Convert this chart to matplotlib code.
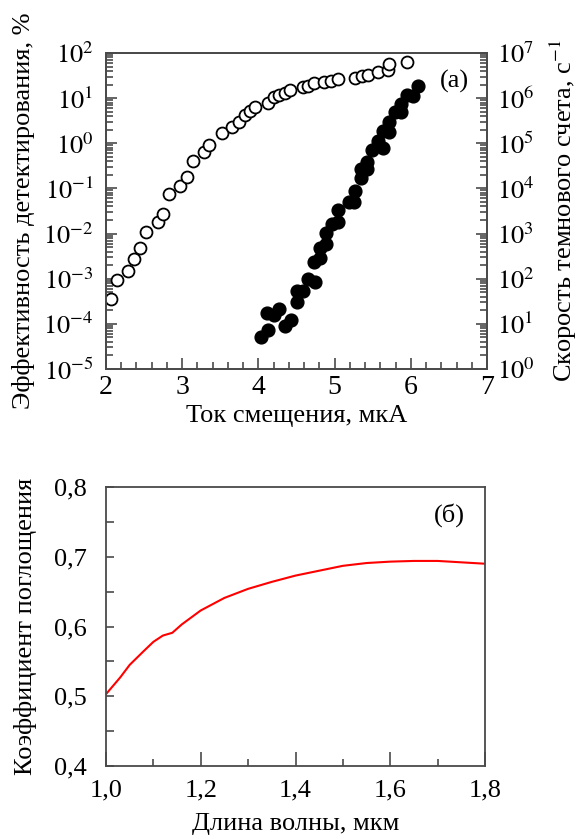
import numpy as np
import matplotlib
matplotlib.use('Agg')
import matplotlib.pyplot as plt
from matplotlib.ticker import LogLocator, FixedLocator, MultipleLocator, NullFormatter, FuncFormatter, FixedFormatter

plt.rcParams['font.family'] = ['Liberation Serif', 'DejaVu Serif']
plt.rcParams['mathtext.fontset'] = 'stix'

# ---------------- data: panel (a) ----------------
# detection efficiency, % (open circles, left axis)
bias_eff = [2.06, 2.14, 2.29, 2.37, 2.45, 2.52, 2.68, 2.75, 2.83, 2.97, 3.06, 3.14,
            3.29, 3.35, 3.52, 3.66, 3.75, 3.82, 3.89, 3.96, 4.12, 4.20, 4.27, 4.35,
            4.42, 4.58, 4.65, 4.73, 4.86, 4.95, 5.04, 5.27, 5.36, 5.44, 5.57, 5.70,
            5.71, 5.95]
efficiency = [3.5e-4, 9.5e-4, 1.5e-3, 2.8e-3, 4.7e-3, 1.1e-2, 1.8e-2, 2.75e-2, 7.4e-2,
              0.115, 0.18, 0.41, 0.63, 0.91, 1.66, 2.24, 2.9, 4.3, 5.2, 6.5, 7.9, 10.5,
              11.7, 12.9, 15.1, 17.4, 18.2, 21.4, 22.9, 24.5, 26.9, 27.5, 30.2, 32.4,
              38.9, 41.7, 57.5, 64.6]
# dark count rate, 1/s (filled circles, right axis)
bias_dcr = [4.04, 4.13, 4.11, 4.20, 4.27, 4.35, 4.43, 4.50, 4.50, 4.58, 4.65, 4.74,
            4.73, 4.81, 4.81, 4.89, 4.89, 4.96, 5.04, 5.04, 5.19, 5.26, 5.27, 5.34,
            5.34, 5.42, 5.42, 5.49, 5.57, 5.64, 5.64, 5.72, 5.72, 5.79, 5.87, 5.87,
            5.95, 6.03, 6.10]
dark_rate = [5.0, 7.2, 17.8, 15.5, 20.9, 8.9, 12.0, 30.9, 53.7, 53.7, 100, 85,
             234, 282, 468, 589, 1050, 1620, 1820, 3310, 5010, 5010, 8910, 16600,
             27500, 27500, 38000, 70800, 115000, 77600, 191000, 182000, 302000,
             501000, 501000, 759000, 1170000, 1120000, 1860000]

# ---------------- data: panel (б) ----------------
wavelength = [1.00, 1.03, 1.05, 1.08, 1.10, 1.12, 1.13, 1.14, 1.16, 1.18, 1.20, 1.25,
              1.30, 1.35, 1.40, 1.45, 1.50, 1.55, 1.60, 1.65, 1.70, 1.75, 1.80]
absorption = [0.503, 0.527, 0.545, 0.565, 0.578, 0.587, 0.589, 0.591, 0.603, 0.613,
              0.623, 0.641, 0.654, 0.664, 0.673, 0.680, 0.687, 0.691, 0.693, 0.694,
              0.694, 0.692, 0.690]

xticks_b = [1.0, 1.2, 1.4, 1.6, 1.8]
xticklabels_b = ['1,0', '1,2', '1,4', '1,6', '1,8']
yticks_b = [0.4, 0.5, 0.6, 0.7, 0.8]
yticklabels_b = ['0,4', '0,5', '0,6', '0,7', '0,8']

FS = 19
SPINE = '#4a4a4a'
W, H = 582, 839
fig = plt.figure(figsize=(W / 100, H / 100), dpi=100)

def rect(l, t, r, b):
    return [l / W, 1 - b / H, (r - l) / W, (b - t) / H]

# ---------------- panel (a) ----------------
ax = fig.add_axes(rect(106, 53, 487, 369))
ax2 = ax.twinx()

ax.plot(bias_eff, efficiency, linestyle='none', marker='o', markersize=8.6,
        markerfacecolor='white', markeredgecolor='black', markeredgewidth=1.3, zorder=3)
ax2.plot(bias_dcr, dark_rate, linestyle='none', marker='o', markersize=9.2,
         markerfacecolor='black', markeredgecolor='black', zorder=3)

ax.set_xlim(2, 7)
ax.set_yscale('log')
ax.set_ylim(1e-5, 1e2)
ax2.set_yscale('log')
ax2.set_ylim(1e0, 1e7)

logfmt = FuncFormatter(lambda v, p: r'$10^{%d}$' % int(round(np.log10(v))))
for a in (ax, ax2):
    a.yaxis.set_major_locator(LogLocator(base=10, numticks=20))
    a.yaxis.set_minor_locator(LogLocator(base=10, subs=np.arange(2, 10), numticks=200))
    a.yaxis.set_major_formatter(logfmt)
    a.yaxis.set_minor_formatter(NullFormatter())
    for s in a.spines.values():
        s.set_color(SPINE)
        s.set_linewidth(1.3)

ax.xaxis.set_major_locator(MultipleLocator(1))
ax.xaxis.set_minor_locator(MultipleLocator(0.2))
ax.tick_params(axis='x', which='both', direction='in', top=False, bottom=True,
               color=SPINE, width=1.2)
ax.tick_params(axis='x', which='major', length=8, pad=4, labelsize=FS + 1)
ax.tick_params(axis='x', which='minor', length=5)
ax.tick_params(axis='y', which='both', direction='in', left=True, right=False,
               color=SPINE, width=1.2)
ax.tick_params(axis='y', which='major', length=8, pad=9, labelsize=FS)
ax.tick_params(axis='y', which='minor', length=5)
ax2.tick_params(axis='y', which='both', direction='in', left=False, right=True,
                color=SPINE, width=1.2)
ax2.tick_params(axis='y', which='major', length=8, pad=7, labelsize=FS)
ax2.tick_params(axis='y', which='minor', length=5)

ax.set_xlabel('Ток смещения, мкА', fontsize=FS, labelpad=4)
ax.set_ylabel('Эффективность детектирования, %', fontsize=FS, labelpad=6)
ax2.set_ylabel('Скорость темнового счета, с$^{-1}$', fontsize=FS, labelpad=10)
ax.text(0.915, 0.91, '(a)', transform=ax.transAxes, fontsize=FS,
        ha='center', va='center')

# ---------------- panel (б) ----------------
bx = fig.add_axes(rect(106, 487, 485, 766))
bx.plot(wavelength, absorption, color='#ff0000', linewidth=1.5)
bx.set_xlim(1.0, 1.8)
bx.set_ylim(0.4, 0.8)
bx.xaxis.set_major_locator(FixedLocator(xticks_b))
bx.xaxis.set_major_formatter(FixedFormatter(xticklabels_b))
bx.xaxis.set_minor_locator(MultipleLocator(0.1))
bx.yaxis.set_major_locator(FixedLocator(yticks_b))
bx.yaxis.set_major_formatter(FixedFormatter(yticklabels_b))
bx.yaxis.set_minor_locator(MultipleLocator(0.05))
for s in bx.spines.values():
    s.set_color(SPINE)
    s.set_linewidth(1.3)
bx.tick_params(axis='both', which='both', direction='in', top=False, right=False,
               color=SPINE, width=1.2)
bx.tick_params(axis='x', which='major', length=10, pad=10, labelsize=FS)
bx.tick_params(axis='x', which='minor', length=5)
bx.tick_params(axis='y', which='both', length=6)
bx.tick_params(axis='y', which='major', pad=14, labelsize=FS)
bx.set_xlabel('Длина волны, мкм', fontsize=FS, labelpad=8)
bx.set_ylabel('Коэффициент поглощения', fontsize=FS, labelpad=12)
bx.text(0.905, 0.9, '(б)', transform=bx.transAxes, fontsize=FS,
        ha='center', va='center')

fig.savefig('out.png', dpi=100)
